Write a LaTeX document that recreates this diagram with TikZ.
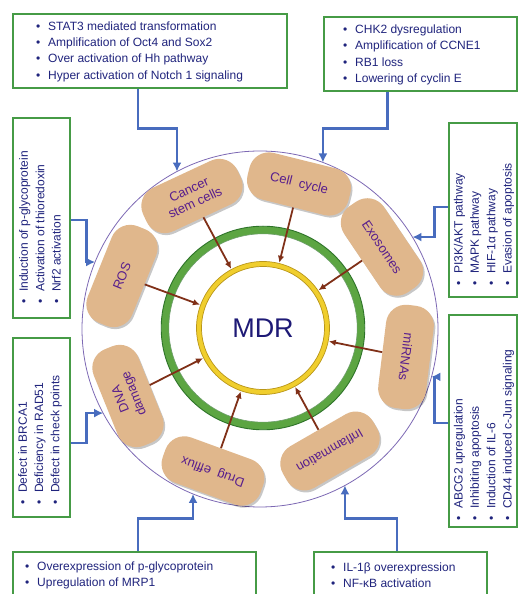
\documentclass[tikz,border=0pt]{standalone}
\usepackage{fontspec}
\setmainfont{Liberation Sans}
\usetikzlibrary{calc,arrows.meta,shadows}
\definecolor{boxgreen}{RGB}{70,155,70}
\definecolor{txtblue}{RGB}{32,36,125}
\definecolor{connblue}{RGB}{72,108,190}
\definecolor{blobtan}{RGB}{224,183,140}
\definecolor{blobtxt}{RGB}{88,30,140}
\definecolor{arrbrown}{RGB}{128,48,24}
\definecolor{ringgreen}{RGB}{92,165,66}
\definecolor{ringdark}{RGB}{45,115,40}
\definecolor{ringyellow}{RGB}{240,206,45}
\definecolor{ringgold}{RGB}{185,150,25}
\definecolor{rimpurple}{RGB}{125,105,180}
\definecolor{mdrblue}{RGB}{30,26,118}
\newcommand\itm{\makebox[12pt][l]{\textbullet}}
\tikzset{
  infobox/.style={draw=boxgreen, line width=1.2pt, fill=white, inner sep=0pt},
  infotext/.style={text=txtblue, inner sep=0pt, align=left, font=\fontsize{12}{16.3}\selectfont},
  blob/.style={fill=blobtan, rounded corners=20pt, minimum width=104pt, minimum height=48pt,
    inner sep=2pt, text=blobtxt, align=center, font=\fontsize{13}{14.5}\selectfont,
    drop shadow={shadow xshift=1.5pt, shadow yshift=-2pt, fill=black, opacity=0.22}},
  conn/.style={connblue, line width=2.6pt, -{Latex[length=9pt,width=9pt]}},
  feed/.style={arrbrown, line width=1.8pt, -{Latex[length=7pt,width=6.5pt]}},
}
\begin{document}
\begin{tikzpicture}[x=1pt,y=1pt]
	\useasboundingbox (0,0) rectangle (518,594);
	\clip (0,0) rectangle (518,594);
	%%%%% START %%%%%
	
	\coordinate (oc) at (260,265);
	\coordinate (ic) at (263,266);
	\draw[rimpurple, line width=0.8pt, fill=white] (oc) circle (178);
	\draw[ringgreen, line width=7.5pt] (ic) circle (98);
	\draw[ringdark, line width=0.9pt] (ic) circle (101.8);
	\draw[ringdark!70, line width=0.6pt] (ic) circle (94.2);
	\draw[ringyellow, line width=5pt] (ic) circle (64);
	\draw[ringgold, line width=0.7pt] (ic) circle (66.5) (ic) circle (61.5);
	\node[circle, minimum size=134pt, inner sep=0pt, text=mdrblue, font=\fontsize{27}{27}\selectfont] (mdr) at (ic) {MDR};
	
	\node[blob, rotate=25] (csc) at (192,398) {Cancer\\stem cells};
	\node[blob, rotate=-14] (cyc) at (299,410) {Cell\ \ cycle};
	\node[blob, rotate=-56] (exo) at (382,347) {Exosomes};
	\node[blob, rotate=-97] (mir) at (406,237) {miRNAs};
	\node[blob, rotate=-150] (inf) at (330,143) {Inflammation};
	\node[blob, rotate=160] (dru) at (213,123) {Drug\ \ efflux};
	\node[blob, rotate=112] (dna) at (128,198) {DNA\\damage};
	\node[blob, rotate=68] (ros) at (122,318) {ROS};
	
	\foreach \b in {csc,cyc,exo,mir,inf,dru,dna,ros}
		\draw[feed] (\b) -- (mdr);
	
	\node[infobox, minimum width=274pt, minimum height=74pt] (tlbox) at (150,543) {};
	\node[infobox, minimum width=193pt, minimum height=74pt] (trbox) at (420.5,540) {};
	\node[infobox, minimum width=57pt, minimum height=200pt] (lrbox) at (41.5,376) {};
	\node[infobox, minimum width=57pt, minimum height=179pt] (lbbox) at (41.5,166.5) {};
	\node[infobox, minimum width=68pt, minimum height=174pt] (rtbox) at (483,384) {};
	\node[infobox, minimum width=68pt, minimum height=212pt] (rbbox) at (483,173) {};
	\node[infobox, minimum width=243pt, minimum height=48pt] (b1box) at (134.5,18) {};
	\node[infobox, minimum width=173pt, minimum height=48pt] (b2box) at (400.5,18) {};
	
	\node[infotext, anchor=west] (tltext) at (36,542.5) {\itm STAT3 mediated transformation\\ \itm Amplification of Oct4 and Sox2\\ \itm Over activation of Hh pathway\\ \itm Hyper activation of Notch 1 signaling};
	\node[infotext, anchor=west] (trtext) at (343,539) {\itm CHK2 dysregulation\\ \itm Amplification of CCNE1\\ \itm RB1 loss\\ \itm Lowering of cyclin E};
	\node[infotext, rotate=90, anchor=west] (lrtext) at (40,290) {\itm Induction of p-glycoprotein\\ \itm Activation of thioredoxin\\ \itm Nrf2 activation};
	\node[infotext, rotate=90, anchor=west] (lbtext) at (40,89) {\itm Defect in BRCA1\\ \itm Deficiency in RAD51\\ \itm Defect in check points};
	\node[infotext, rotate=90, anchor=west] (rttext) at (484,308) {\itm PI3K/AKT pathway\\ \itm MAPK pathway\\ \itm HIF-1α pathway\\ \itm Evasion of apoptosis};
	\node[infotext, rotate=90, anchor=west] (rbtext) at (484,73) {\itm ABCG2 upregulation\\ \itm Inhibiting apoptosis\\ \itm Induction of IL-6\\ \itm CD44 induced c-Jun signaling};
	\node[infotext, anchor=west] (b1text) at (25,18.5) {\itm Overexpression of p-glycoprotein\\ \itm Upregulation of MRP1};
	\node[infotext, anchor=west] (b2text) at (331,18.5) {\itm IL-1β overexpression\\ \itm NF-κB activation};
	
	\coordinate (in-csc) at ($(oc)+(117.8:178)$);
	\coordinate (in-cyc) at ($(oc)+(69.3:178)$);
	\coordinate (in-ros) at ($(oc)+(157.9:178)$);
	\coordinate (in-dna) at ($(oc)+(208.2:178)$);
	\coordinate (in-exo) at ($(oc)+(31.1:178)$);
	\coordinate (in-mir) at ($(oc)+(-15.6:178)$);
	\coordinate (in-dru) at ($(oc)+(-112.1:178)$);
	\coordinate (in-inf) at ($(oc)+(-61.5:178)$);
	
	\draw[conn] ($(tlbox.south)+(-12,0)$) -- ++(0,-40) -| (in-csc);
	\draw[conn] ($(trbox.south)+(-33,0)$) -- ++(0,-37) -| (in-cyc);
	\draw[conn] ($(lrbox.east)+(0,-2)$) -- ++(16,0) |- (in-ros);
	\draw[conn] ($(lbbox.east)+(0,-15.5)$) -- ++(16,0) |- (in-dna);
	\draw[conn] ($(rtbox.west)+(0,3)$) -- ++(-14,0) |- (in-exo);
	\draw[conn] ($(rbbox.west)+(0,-2)$) -- ++(-14,0) |- (in-mir);
	\draw[conn] ($(b1box.north)+(3.5,0)$) -- ++(0,33) -| (in-dru);
	\draw[conn] ($(b2box.north)+(-3.5,0)$) -- ++(0,33) -| (in-inf);
	
	%%%%% END %%%%%
\end{tikzpicture}
\end{document}
